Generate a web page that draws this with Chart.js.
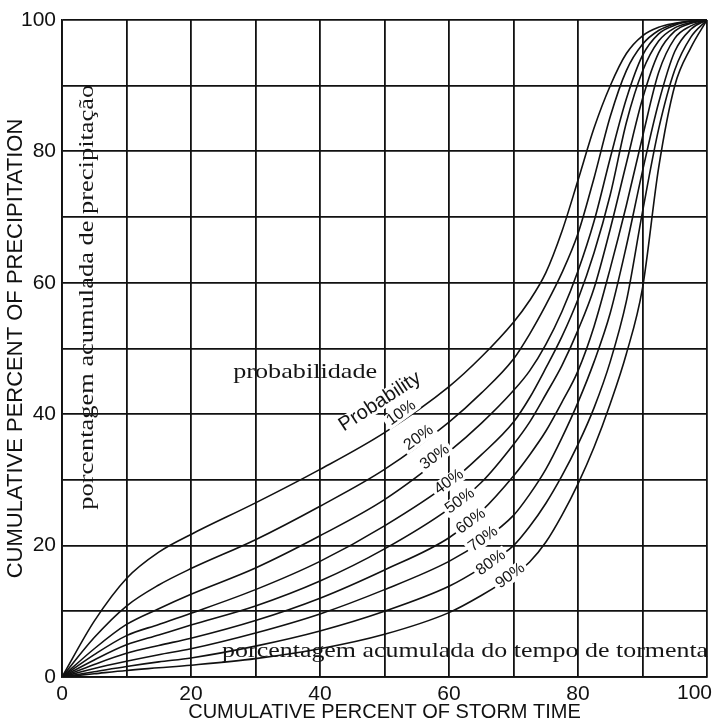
<!DOCTYPE html>
<html><head><meta charset="utf-8">
<script src="https://cdn.jsdelivr.net/npm/chart.js@4.4.0/dist/chart.umd.min.js"></script>
<style>html,body{margin:0;padding:0;background:#fff}#wrap{width:713px;height:724px}</style>
</head><body><div id="wrap"><canvas id="c" width="713" height="724"></canvas></div>
<script>
// cumulative percent of storm time (x samples)
const stormTime = [0,5,10,15,20,30,40,50,60,65,70,72.5,75,77.5,80,82.5,85,87.5,90,92.5,95,97.5,100];
// cumulative percent of precipitation for each probability curve
const p10 = [0,8.5,15,19.0,21.7,26.5,31.6,37.2,44.2,48.7,54,57.3,61.5,67.8,75.6,83.6,90,94.9,97.6,98.9,99.5,99.85,100];
const p20 = [0,6.0,10.8,14.0,16.5,20.9,26.0,31.6,38.8,43.2,48.4,52.2,56.6,61.5,67.5,76.0,85.3,92.3,96.3,98.4,99.4,99.85,100];
const p30 = [0,4.3,8.0,10.4,12.6,16.6,21.5,27.0,34.3,38.6,43.6,46.6,50.6,55.6,61.8,69.4,79.0,88.0,94.6,97.9,99.2,99.8,100];
const p40 = [0,3.4,6.3,8.0,9.7,13.3,17.6,23.0,29.5,33.8,38.8,42.5,47.0,51.8,57.5,64.6,73.4,84.4,92.2,96.8,98.8,99.6,100];
const p50 = [0,2.6,4.9,6.4,7.9,10.8,14.6,19.5,25.6,29.6,35.4,38.8,43.0,47.4,52.8,59.2,68.2,78.2,88.0,95.0,98.3,99.5,100];
const p60 = [0,1.9,3.6,4.8,5.9,8.6,12.0,16.3,21.2,25.2,30.6,33.8,37.4,41.8,46.6,53.4,62.2,71.8,82.2,92.0,97.2,99.1,100];
const p70 = [0,1.3,2.4,3.4,4.3,6.7,9.6,13.3,17.6,20.6,24.6,27.8,31.6,36.4,41.8,48.0,55.4,65.6,77.0,87.4,95.2,98.6,100];
const p80 = [0,0.8,1.6,2.3,2.9,4.7,7.0,10.0,13.8,16.6,20.0,22.9,26.4,30.6,35.4,41.0,48.0,57.2,70.8,83.4,92.4,97.4,100];
const p90 = [0,0.5,1.0,1.4,1.8,2.8,4.3,6.5,9.8,12.4,15.5,17.5,20.5,24.6,29.4,35.0,41.6,49.2,59.2,77.5,90.0,95.8,100];
const seriesValues = [p10,p20,p30,p40,p50,p60,p70,p80,p90];
const probabilityLabels = ['10%','20%','30%','40%','50%','60%','70%','80%','90%'];
const tickLabels = ['0','20','40','60','80','100'];

// label anchor points (data units) along the curves
const labelAnchorX = [52.6,55.3,57.8,60.0,61.7,63.4,65.3,66.5,69.5];
const labelAnchorY = [40.2,36.4,33.5,29.7,26.8,23.7,21.0,17.4,15.4];

const datasets = seriesValues.map((vals,i)=>({
  label: probabilityLabels[i],
  data: stormTime.map((x,j)=>({x:x,y:vals[j]})),
  showLine: true,
  borderColor: '#111',
  borderWidth: 1.6,
  pointRadius: 0,
  fill: false,
  cubicInterpolationMode: 'monotone'
}));

function fitText(ctx, text, cx, cy, angle, font, targetWidth, bg, align){
  ctx.save();
  ctx.font = font;
  ctx.translate(cx, cy);
  ctx.rotate(angle);
  const w = ctx.measureText(text).width;
  const sx = targetWidth ? targetWidth / w : 1;
  ctx.scale(sx, 1);
  if (bg) {
    ctx.fillStyle = '#fff';
    ctx.fillRect(-w/2 - 3, -bg/2, w + 6, bg);
  }
  ctx.fillStyle = '#151515';
  ctx.textAlign = align || 'center';
  ctx.textBaseline = 'middle';
  ctx.fillText(text, 0, 0);
  ctx.restore();
}

const annotations = {
  id: 'annotations',
  afterDatasetsDraw(chart){
    const ctx = chart.ctx, xs = chart.scales.x, ys = chart.scales.y;
    const deg = Math.PI/180;
    fitText(ctx, 'Probability', xs.getPixelForValue(49.3), ys.getPixelForValue(41.9), -33*deg, '20px "Liberation Sans"', 0, 17);
    for (let i=0;i<probabilityLabels.length;i++){
      fitText(ctx, probabilityLabels[i], xs.getPixelForValue(labelAnchorX[i]), ys.getPixelForValue(labelAnchorY[i]), -36*deg, '16px "Liberation Sans"', 0, 15);
    }
    fitText(ctx, 'probabilidade', xs.getPixelForValue(37.7), ys.getPixelForValue(46.4), 0, '22px "Liberation Serif"', 144, 0);
    fitText(ctx, 'porcentagem acumulada do tempo de tormenta', xs.getPixelForValue(62.5), ys.getPixelForValue(3.9), 0, '22px "Liberation Serif"', 486, 0);
    fitText(ctx, 'porcentagem acumulada de precipitação', xs.getPixelForValue(3.9), ys.getPixelForValue(57.8), -90*deg, '22px "Liberation Serif"', 425, 0);
  },
  afterDraw(chart){
    // last x tick label, kept inside the canvas as in the original
    const ctx = chart.ctx, xs = chart.scales.x;
    ctx.save();
    ctx.font = '21px "Liberation Sans"';
    ctx.fillStyle = '#111';
    ctx.textAlign = 'right';
    ctx.textBaseline = 'middle';
    ctx.fillText(tickLabels[5], chart.width - 1, xs.top + 16);
    ctx.restore();
  }
};

new Chart(document.getElementById('c'), {
  type: 'scatter',
  data: { datasets },
  options: {
    responsive: false,
    devicePixelRatio: 1,
    animation: false,
    layout: { padding: { left: 0, top: 20, right: 6, bottom: 0 } },
    plugins: { legend: { display: false }, tooltip: { enabled: false } },
    scales: {
      x: {
        type: 'linear', min: 0, max: 100,
        ticks: { stepSize: 10, padding: 5, color: '#111', font: { family: '"Liberation Sans"', size: 21 },
          callback: v => (v % 20 === 0 && v < 100 ? tickLabels[v/20] : ''), maxRotation: 0, autoSkip: false },
        grid: { color: '#111', lineWidth: 1.8, drawTicks: false },
        border: { color: '#111', width: 1.8 },
        title: { display: true, text: 'CUMULATIVE PERCENT OF STORM TIME', color: '#111',
          font: { family: '"Liberation Sans"', size: 20 }, padding: { top: 0, bottom: 0 } },
        afterFit(s){ s.height = 47; s.paddingRight = 0; s.paddingLeft = 0; }
      },
      y: {
        type: 'linear', min: 0, max: 100,
        ticks: { stepSize: 10, padding: 6, color: '#111', font: { family: '"Liberation Sans"', size: 21 },
          callback: v => (v % 20 === 0 ? tickLabels[v/20] : ''), autoSkip: false },
        grid: { color: '#111', lineWidth: 1.8, drawTicks: false },
        border: { color: '#111', width: 1.8 },
        title: { display: true, text: 'CUMULATIVE PERCENT OF PRECIPITATION', color: '#111',
          font: { family: '"Liberation Sans"', size: 22 }, padding: { top: 3, bottom: 0 } },
        afterFit(s){ s.width = 62; s.paddingTop = 0; s.paddingBottom = 0; }
      }
    }
  },
  plugins: [annotations]
});
</script></body></html>
